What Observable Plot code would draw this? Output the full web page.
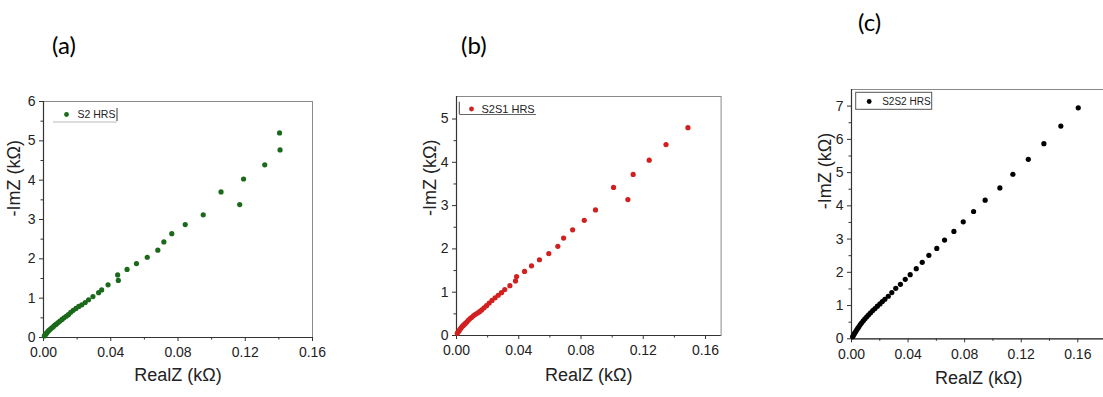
<!DOCTYPE html>
<html>
<head>
<meta charset="utf-8">
<script src="https://cdn.jsdelivr.net/npm/d3@7"></script>
<script src="https://cdn.jsdelivr.net/npm/@observablehq/plot@0.6"></script>
<style>
  html, body { margin: 0; padding: 0; background: #fff; overflow: hidden; }
  #wrap { position: relative; width: 1103px; height: 397px; overflow: hidden; }
  .panel { position: absolute; top: 0; }
  svg.panel, svg.panel text { font-family: "Liberation Sans", Arial, sans-serif !important; }
  .tag { position: absolute; font-family: Lato, "Open Sans", sans-serif; font-size: 24px; line-height: 1; color: #000; }
</style>
</head>
<body>
<div id="wrap"></div>
<script>
// ---------- Data ----------
// (a) S2 HRS
const aReal = [0.0005,0.001,0.0015,0.002,0.0026,0.0032,0.004,0.0048,0.0057,0.0066,0.0076,0.0087,0.0098,0.011,0.0122,0.0135,0.0148,0.0162,0.0177,0.0193,0.021,0.0228,0.0248,
  0.0268,0.0294,0.0328,0.0346,0.0384,0.0445,0.0441,0.0497,0.0553,0.0617,0.068,0.0716,0.0763,0.0843,0.095,0.1056,0.1167,0.119,0.1316,0.1407,0.1404];
const aImag = [0.04,0.07,0.09,0.12,0.15,0.18,0.21,0.24,0.27,0.31,0.34,0.38,0.42,0.46,0.50,0.54,0.58,0.64,0.69,0.74,0.79,0.83,0.89,
  0.96,1.04,1.14,1.21,1.34,1.45,1.59,1.73,1.88,2.04,2.22,2.43,2.64,2.87,3.12,3.70,3.38,4.03,4.39,4.77,5.20];

// (b) S2S1 HRS
const bReal = [0.0005,0.001,0.0015,0.002,0.0026,0.0032,0.004,0.0048,0.0057,0.0066,0.0076,0.0087,0.0098,0.011,0.0122,0.0135,0.0148,0.0162,0.0177,0.0193,0.021,0.0228,0.0248,0.0268,
  0.0289,0.031,0.0343,0.0379,0.0386,0.0437,0.0482,0.0533,0.0593,0.0651,0.0688,0.0746,0.0821,0.0893,0.1009,0.1101,0.1135,0.1238,0.1346,0.1487];
const bImag = [0.05,0.08,0.10,0.13,0.16,0.19,0.22,0.25,0.28,0.31,0.35,0.39,0.42,0.46,0.49,0.52,0.55,0.59,0.64,0.69,0.75,0.81,0.87,0.93,
  0.99,1.06,1.15,1.26,1.36,1.48,1.61,1.75,1.89,2.06,2.25,2.44,2.66,2.90,3.42,3.14,3.72,4.05,4.41,4.80];

// (c) S2S2 HRS
const cReal = [0.0008,0.0013,0.0018,0.0024,0.003,0.0037,0.0045,0.0053,0.0062,0.0072,0.0083,0.0095,0.0108,0.0121,0.0135,0.015,0.0166,0.0183,0.0201,0.0218,0.0236,
  0.026,0.0285,0.0313,0.0346,0.038,0.0415,0.0458,0.05,0.0547,0.0603,0.0658,0.0724,0.079,0.0863,0.0945,0.1049,0.1141,0.125,0.136,0.148,0.1603];
const cImag = [0.06,0.10,0.14,0.18,0.22,0.27,0.32,0.37,0.43,0.48,0.54,0.60,0.66,0.72,0.78,0.85,0.91,0.98,1.05,1.12,1.19,
  1.28,1.39,1.52,1.64,1.79,1.93,2.11,2.30,2.51,2.72,2.97,3.23,3.52,3.83,4.17,4.54,4.95,5.40,5.87,6.40,6.95];

const xMajor = [0, 0.04, 0.08, 0.12, 0.16];
const xMinor = [0.02, 0.06, 0.10, 0.14];
const aYMajor = [0,1,2,3,4,5,6];
const bYMajor = [0,1,2,3,4,5];
const cYMajor = [0,1,2,3,4,5,6,7];
const aYMinor = [0.5,1.5,2.5,3.5,4.5,5.5];
const bYMinor = [0.5,1.5,2.5,3.5,4.5];
const cYMinor = [0.5,1.5,2.5,3.5,4.5,5.5,6.5];

const xTitle = "RealZ (kΩ)";
const yTitle = "-ImZ (kΩ)";
const tags = ["(a)", "(b)", "(c)"];
const series = ["S2 HRS", "S2S1 HRS", "S2S2 HRS"];

const wrap = document.getElementById("wrap");
const fmt = d3.format(".2f");
const FONT = "'Liberation Sans', Arial, sans-serif";

function panel(cfg) {
  const idx = d3.range(cfg.xs.length);
  const plot = Plot.plot({
    width: cfg.width,
    height: 397,
    marginLeft: cfg.ml, marginRight: cfg.mr, marginTop: cfg.mt, marginBottom: cfg.mb,
    style: {fontFamily: FONT, background: "transparent", overflow: "visible", color: "#222"},
    x: {domain: cfg.xDomain, label: null},
    y: {domain: cfg.yDomain, label: null},
    marks: [
      Plot.frame({stroke: "#8a8a8a", strokeWidth: 1}),
      Plot.ruleX([0], {stroke: "#333", strokeWidth: 1.2}),
      Plot.ruleY([0], {stroke: "#333", strokeWidth: 1.2}),
      Plot.axisX({ticks: xMajor, tickFormat: fmt, tickSize: 4, tickPadding: 6, fontSize: 14, label: null, stroke: "#333"}),
      Plot.axisX({ticks: xMinor, tickFormat: () => "", tickSize: 2.5, label: null, stroke: "#333"}),
      Plot.axisY({ticks: cfg.yMajor, tickFormat: d3.format("d"), tickSize: 4, tickPadding: 4, fontSize: 14, label: null, stroke: "#333"}),
      Plot.axisY({ticks: cfg.yMinor, tickFormat: () => "", tickSize: 2.5, label: null, stroke: "#333"}),
      Plot.dot(idx, {x: i => cfg.xs[i], y: i => cfg.ys[i], r: 2.6, fill: cfg.color, stroke: "none"}),
      Plot.text([yTitle], {text: d => d, frameAnchor: "left", dx: cfg.ylDx, dy: cfg.ylDy || 0, rotate: -90, fontSize: 18, fill: "#222"}),
      Plot.text([xTitle], {text: d => d, frameAnchor: "bottom", dy: cfg.xlDy, fontSize: 18, fill: "#222"}),
      Plot.dot([cfg.name], {frameAnchor: "top-left", dx: cfg.leg.dotX, dy: cfg.leg.dotY, r: 2.4, fill: cfg.color, stroke: "none"}),
      Plot.text([cfg.name], {text: d => d, frameAnchor: "top-left", lineAnchor: "middle", dx: cfg.leg.textX, dy: cfg.leg.dotY, textAnchor: "start", fontSize: cfg.leg.fs, fill: "#222"})
    ]
  });
  plot.classList.add("panel");
  plot.style.left = cfg.left + "px";
  wrap.appendChild(plot);
  const svg = d3.select(plot);
  const g = svg.append("g").attr("transform", `translate(${cfg.ml},${cfg.mt})`)
    .attr("fill", "none");
  cfg.leg.deco(g);
}

panel({
  name: series[0], xs: aReal, ys: aImag, color: "#1b6a1b",
  xDomain: [0, 0.16], yDomain: [0, 6], yMajor: aYMajor, yMinor: aYMinor,
  width: 330, left: 0, ml: 43, mr: 18, mt: 101, mb: 60,
  ylDx: -29, ylDy: -3, xlDy: 43,
  leg: {dotX: 23, dotY: 13, textX: 34, fs: 10.5, deco: g => {
    g.append("line").attr("x1", 10).attr("x2", 74).attr("y1", 21).attr("y2", 21).attr("stroke", "#bbb");
    g.append("line").attr("x1", 74).attr("x2", 74).attr("y1", 7).attr("y2", 20).attr("stroke", "#333");
  }}
});

panel({
  name: series[1], xs: bReal, ys: bImag, color: "#d21f1f",
  xDomain: [0, 0.17], yDomain: [0, 5.52], yMajor: bYMajor, yMinor: bYMinor,
  width: 340, left: 400, ml: 56, mr: 19.4, mt: 96, mb: 62,
  ylDx: -26, ylDy: 0, xlDy: 45,
  leg: {dotX: 15, dotY: 12.5, textX: 25, fs: 11, deco: g => {
    g.append("line").attr("x1", 3.3).attr("x2", 3.3).attr("y1", 5.7).attr("y2", 18).attr("stroke", "#444");
    g.append("line").attr("x1", 3.3).attr("x2", 80).attr("y1", 18.5).attr("y2", 18.5).attr("stroke", "#666");
  }}
});

panel({
  name: series[2], xs: cReal, ys: cImag, color: "#000",
  xDomain: [0, 0.18], yDomain: [0, 7.5], yMajor: cYMajor, yMinor: cYMinor,
  width: 320, left: 790, ml: 61, mr: 4.4, mt: 89, mb: 58.7,
  ylDx: -26, ylDy: -5, xlDy: 45,
  leg: {dotX: 17.7, dotY: 12, textX: 30.7, fs: 10, deco: g => {
    g.append("rect").attr("x", 4.7).attr("y", 3.3).attr("width", 76).attr("height", 17).attr("stroke", "#555");
  }}
});

// Panel tags
[[52, 33], [461, 33], [858, 10]].forEach((p, i) => {
  const d = document.createElement("div");
  d.className = "tag";
  d.textContent = tags[i];
  d.style.left = p[0] + "px";
  d.style.top = p[1] + "px";
  wrap.appendChild(d);
});
</script>
</body>
</html>
